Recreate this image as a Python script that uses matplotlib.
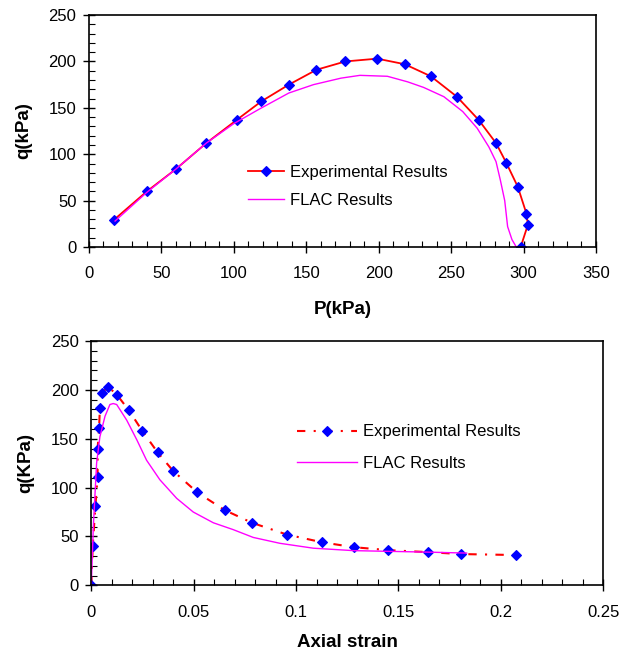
import matplotlib
matplotlib.use("Agg")
import matplotlib.pyplot as plt
from matplotlib.ticker import MultipleLocator

plt.rcParams['font.family'] = ['Liberation Sans', 'DejaVu Sans']

# stress path, q against p
p_exp = [17, 40, 60, 81, 102, 119, 138, 157, 177, 199, 218, 236, 254, 269, 281, 288, 296, 302, 303, 298]
q_exp = [29, 60, 84, 112, 137, 157, 175, 191, 200, 203, 197, 184, 162, 137, 112, 91, 65, 36, 24, 0]
p_flac = [18, 40, 60, 81, 100, 118, 138, 155, 174, 187, 206, 220, 231, 245, 258, 268, 276, 281, 284, 287, 289, 292, 295]
q_flac = [28, 59, 84, 112, 133, 149, 166, 175, 182, 185, 184, 178, 172, 162, 146, 128, 108, 92, 72, 50, 22, 8, 0]

# q against axial strain
eps_exp = [0, 0.0007, 0.002, 0.0031, 0.0031, 0.0038, 0.0042, 0.0051, 0.0083, 0.0125, 0.0184, 0.0249,
           0.0324, 0.040, 0.0518, 0.0651, 0.0785, 0.0954, 0.1128, 0.1283, 0.145, 0.1643, 0.1804, 0.2074]
qe_exp = [0, 40, 81, 111, 140, 161, 181, 197, 203, 195, 179, 158,
          136, 117, 95, 77, 64, 52, 44, 39, 36, 34, 32, 31]
eps_flac = [0, 0.001, 0.0026, 0.0042, 0.0067, 0.0091, 0.0107, 0.0124, 0.0173, 0.0222, 0.027, 0.0335,
            0.0417, 0.0498, 0.0596, 0.0693, 0.0791, 0.0921, 0.1084, 0.128, 0.1638, 0.1833]
qe_flac = [0, 60, 125, 152, 173, 185, 186, 185, 169, 149, 128, 108,
           89, 75, 64, 57, 49, 43, 38, 35.5, 34, 33]


def style_axes(ax, xmaj, xmin, ymaj, ymin):
    ax.xaxis.set_major_locator(MultipleLocator(xmaj))
    ax.xaxis.set_minor_locator(MultipleLocator(xmin))
    ax.yaxis.set_major_locator(MultipleLocator(ymaj))
    ax.yaxis.set_minor_locator(MultipleLocator(ymin))
    ax.tick_params(which="major", direction="inout", length=8, width=1, labelsize=12)
    ax.tick_params(which="minor", direction="in", length=4, width=0.8)
    ax.tick_params(axis="x", which="major", pad=10)
    ax.tick_params(axis="y", which="major", pad=5)
    for s in ax.spines.values():
        s.set_linewidth(1.2)


fig = plt.figure(figsize=(6.37, 6.54), dpi=100)

ax1 = fig.add_axes([0.1397, 0.6223, 0.7959, 0.3547])
ax1.plot(p_exp, q_exp, color="red", lw=1.3, marker="D", ms=5.5, mew=0.8, mfc="blue", mec="blue",
         label="Experimental Results")
ax1.plot(p_flac, q_flac, color="magenta", lw=1.0, label="FLAC Results")
ax1.set_xlim(0, 350)
ax1.set_ylim(0, 250)
style_axes(ax1, 50, 10, 50, 10)
ax1.set_xlabel("P(kPa)", fontsize=13.5, fontweight="bold", labelpad=14)
ax1.set_ylabel("q(kPa)", fontsize=13.5, fontweight="bold", labelpad=12)
ax1.legend(loc="upper left", bbox_to_anchor=(0.284, 0.42), frameon=False, fontsize=12,
           handlelength=2.15, handletextpad=0.4, labelspacing=0.8)

ax2 = fig.add_axes([0.1433, 0.105, 0.8037, 0.3736])
ax2.plot(eps_exp, qe_exp, color="red", lw=1.5, linestyle=(0, (4, 4, 1, 4)), marker="D", ms=5.5,
         mew=0.8, mfc="blue", mec="blue", label="Experimental Results")
ax2.plot(eps_flac, qe_flac, color="magenta", lw=1.0, label="FLAC Results")
ax2.set_xlim(0, 0.25)
ax2.set_ylim(0, 250)
style_axes(ax2, 0.05, 0.01, 50, 10)
ax2.set_xticks([0, 0.05, 0.1, 0.15, 0.2, 0.25])
ax2.set_xticklabels(["0", "0.05", "0.1", "0.15", "0.2", "0.25"])
ax2.set_xlabel("Axial strain", fontsize=13.5, fontweight="bold", labelpad=10)
ax2.set_ylabel("q(KPa)", fontsize=13.5, fontweight="bold", labelpad=12)
ax2.legend(loc="upper left", bbox_to_anchor=(0.372, 0.72), frameon=False, fontsize=12,
           handlelength=3.6, handletextpad=0.4, labelspacing=1.0)

fig.savefig("out.png", dpi=100)
